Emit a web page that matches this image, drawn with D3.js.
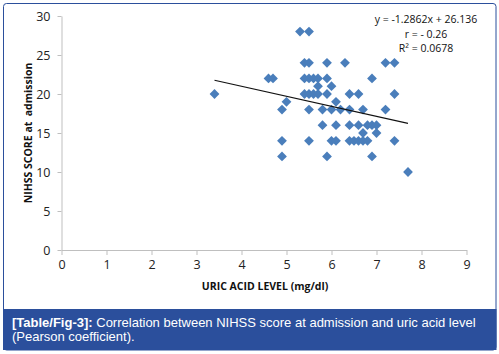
<!DOCTYPE html>
<html>
<head>
<meta charset="utf-8">
<script src="https://cdn.jsdelivr.net/npm/d3@7"></script>
<style>
  body { margin: 0; background: #fff; }
  svg { display: block; }
</style>
</head>
<body>
<svg id="chart" width="499" height="354"></svg>
<script>
// uric acid level (mg/dl) and NIHSS score at admission
const uricAcid = [
  3.4, 4.6, 4.7, 4.9, 4.9, 4.9, 5.0, 5.3, 5.5,
  5.4, 5.5, 5.9, 6.3, 7.2, 7.4,
  5.4, 5.5, 5.6, 5.7, 5.9, 6.9,
  5.7, 6.0,
  5.4, 5.5, 5.6, 5.7, 5.9, 6.4, 6.6, 7.4,
  6.1,
  5.5, 5.8, 6.0, 6.2, 6.4, 6.7, 7.2,
  5.8, 6.1, 6.4, 6.6, 6.8, 6.9, 7.0,
  6.7, 7.0,
  5.5, 6.0, 6.1, 6.4, 6.5, 6.6, 6.7, 6.8, 7.4,
  5.9, 6.9,
  7.7
];
const nihss = [
  20, 22, 22, 18, 14, 12, 19, 28, 28,
  24, 24, 24, 24, 24, 24,
  22, 22, 22, 22, 22, 22,
  21, 21,
  20, 20, 20, 20, 20, 20, 20, 20,
  19,
  18, 18, 18, 18, 18, 18, 18,
  16, 16, 16, 16, 16, 16, 16,
  15, 15,
  14, 14, 14, 14, 14, 14, 14, 14, 14,
  12, 12,
  10
];
const slope = -1.2862;
const intercept = 26.136;
const statLines = ["y = -1.2862x + 26.136", "r = - 0.26", "R\u00b2 = 0.0678"];
const xTicks = [0, 1, 2, 3, 4, 5, 6, 7, 8, 9];
const yTicks = [0, 5, 10, 15, 20, 25, 30];
const xTitle = "URIC ACID LEVEL (mg/dl)";
const yTitle = "NIHSS SCORE at  admission";
const captionLabel = "[Table/Fig-3]:";
const captionLines = [" Correlation between NIHSS score at admission and uric acid level", "(Pearson coefficient)."];

const points = uricAcid.map((d, i) => ({ x: d, y: nihss[i] }));

const svg = d3.select("#chart");
const blue = "#2b4f9c";

// outer frame and caption bar
svg.append("rect")
  .attr("x", 3.5).attr("y", 3.5)
  .attr("width", 492.5).attr("height", 346.5)
  .attr("rx", 3)
  .attr("fill", "#fff")
  .attr("stroke", blue)
  .attr("stroke-width", 1);

svg.append("rect")
  .attr("x", 3).attr("y", 309)
  .attr("width", 493.5).attr("height", 41)
  .attr("fill", blue);

const caption = svg.append("text")
  .attr("x", 12).attr("y", 327)
  .attr("fill", "#fff")
  .style("font-family", "Liberation Sans, Arial, sans-serif")
  .style("font-size", "13px");
caption.append("tspan").attr("font-weight", "bold").text(captionLabel);
caption.append("tspan").text(captionLines[0]);
svg.append("text")
  .attr("x", 12).attr("y", 341)
  .attr("fill", "#fff")
  .style("font-family", "Liberation Sans, Arial, sans-serif")
  .style("font-size", "13px")
  .text(captionLines[1]);

// plot
const x = d3.scaleLinear().domain([0, 9]).range([61.5, 466.5]);
const y = d3.scaleLinear().domain([0, 30]).range([250, 16]);

const font = "Open Sans, Lato, sans-serif";

const xAxis = svg.append("g")
  .attr("transform", `translate(0,${y(0)})`)
  .call(d3.axisBottom(x).tickValues(xTicks).tickSize(5).tickSizeOuter(0).tickPadding(5));
const yAxis = svg.append("g")
  .attr("transform", `translate(${x(0)},0)`)
  .call(d3.axisLeft(y).tickValues(yTicks).tickSize(4).tickSizeOuter(0).tickPadding(7));

[xAxis, yAxis].forEach(g => {
  g.select(".domain").attr("stroke", "#bfbfbf");
  g.selectAll(".tick line").attr("stroke", "#bfbfbf");
  g.selectAll(".tick text")
    .attr("fill", "#222")
    .style("font-family", font)
    .style("font-size", "12.5px");
});

svg.append("text")
  .attr("x", 265).attr("y", 290)
  .attr("text-anchor", "middle")
  .attr("fill", "#111")
  .style("font-family", font)
  .style("font-size", "10.5px")
  .style("font-weight", "bold")
  .text(xTitle);

svg.append("text")
  .attr("transform", `translate(32,${y(15)}) rotate(-90)`)
  .attr("text-anchor", "middle")
  .attr("fill", "#111")
  .style("font-family", font)
  .style("font-size", "10.5px")
  .style("font-weight", "bold")
  .style("white-space", "pre")
  .text(yTitle);

// points as diamonds
const diamond = d3.symbol().type(d3.symbolSquare).size(48);
svg.append("g")
  .selectAll("path")
  .data(points)
  .join("path")
  .attr("d", diamond)
  .attr("transform", d => `translate(${x(d.x)},${y(d.y)}) rotate(45)`)
  .attr("fill", "#4a7ebb");

// trend line
const [xMin, xMax] = d3.extent(uricAcid);
svg.append("line")
  .attr("x1", x(xMin)).attr("y1", y(slope * xMin + intercept))
  .attr("x2", x(xMax)).attr("y2", y(slope * xMax + intercept))
  .attr("stroke", "#111")
  .attr("stroke-width", 1.2);

// regression stats
svg.append("g")
  .selectAll("text")
  .data(statLines)
  .join("text")
  .attr("x", 426)
  .attr("y", (d, i) => 23 + i * 14.5)
  .attr("text-anchor", "middle")
  .attr("fill", "#111")
  .style("font-family", font)
  .style("font-size", "10.5px")
  .text(d => d);
</script>
</body>
</html>
